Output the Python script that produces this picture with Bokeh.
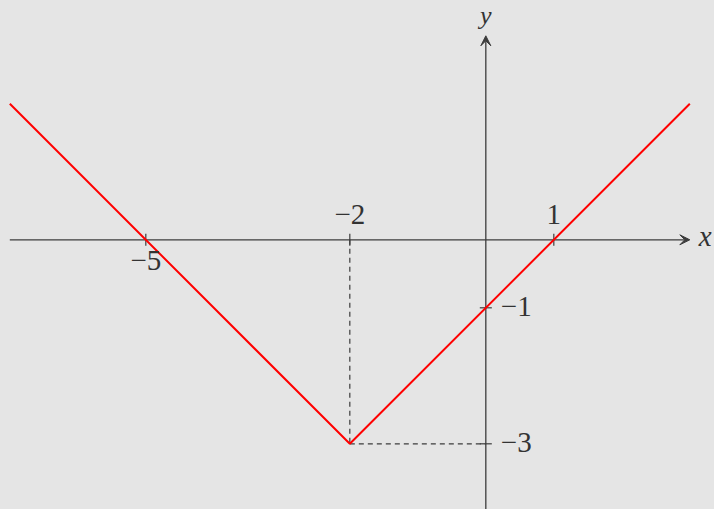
import math
from bokeh.plotting import figure
from bokeh.models import Arrow, VeeHead, Range1d
from bokeh.core.properties import value
from bokeh.embed import file_html
from bokeh.resources import INLINE

# ---- data ----
curve_x = [-7, -2, 3]
curve_y = [2, -3, 2]
vertex_x = -2
vertex_y = -3
xtick_above_vals = [-2, 1]
xtick_above_labels = ["−2", "1"]
xtick_below_vals = [-5]
xtick_below_labels = ["−5"]
ytick_vals = [-1, -3]
ytick_labels = ["−1", "−3"]
x_axis_span = [-7, 3]
y_axis_span = [-4, 3]

BG = "#e5e5e5"
AX = "#3c3c3c"
TXT = "#333333"
FONT = value("Liberation Serif")
FS = "29px"
SHIFT = -10

p = figure(width=714, height=509,
           x_range=Range1d(-7.137, 3.363), y_range=Range1d(-3.966, 3.519),
           x_axis_type=None, y_axis_type=None,
           output_backend="svg", toolbar_location=None, min_border=0,
           background_fill_color=BG, border_fill_color=BG, outline_line_color=None)

# dashed guide lines
p.line([vertex_x, vertex_x], [0, vertex_y], line_color=AX, line_width=1.2, line_dash="5 4")
p.line([vertex_x, 0], [vertex_y, vertex_y], line_color=AX, line_width=1.2, line_dash="5 4")

# axes with arrow heads
p.add_layout(Arrow(end=VeeHead(size=10, fill_color=AX, line_color=AX, line_width=1),
                   x_start=x_axis_span[0], y_start=0, x_end=x_axis_span[1], y_end=0,
                   line_color=AX, line_width=1.3, level="underlay"))
p.add_layout(Arrow(end=VeeHead(size=10, fill_color=AX, line_color=AX, line_width=1),
                   x_start=0, y_start=y_axis_span[0], x_end=0, y_end=y_axis_span[1],
                   line_color=AX, line_width=1.3, level="underlay"))

# ticks
xt = xtick_above_vals + xtick_below_vals
p.scatter(xt, [0] * len(xt), marker="dash", size=12, angle=math.pi / 2,
          line_color=AX, line_width=1.2)
p.scatter([0] * len(ytick_vals), ytick_vals, marker="dash", size=12,
          line_color=AX, line_width=1.2)

# curve
p.line(curve_x, curve_y, line_color="#ff0000", line_width=2)

# tick labels
p.text(xtick_above_vals, [0] * len(xtick_above_vals), text=xtick_above_labels,
       text_align="center", text_baseline="alphabetic", y_offset=-15 + SHIFT,
       text_font=FONT, text_font_size=FS, text_color=TXT)
p.text(xtick_below_vals, [0] * len(xtick_below_vals), text=xtick_below_labels,
       text_align="center", text_baseline="alphabetic", y_offset=31 + SHIFT,
       text_font=FONT, text_font_size=FS, text_color=TXT)
p.text([0] * len(ytick_vals), ytick_vals, text=ytick_labels,
       text_align="left", text_baseline="alphabetic", x_offset=15, y_offset=8.5 + SHIFT,
       text_font=FONT, text_font_size=FS, text_color=TXT)

# axis names
p.text([x_axis_span[1]], [0], text=["x"], text_align="left", text_baseline="alphabetic",
       x_offset=9, y_offset=6.5 + SHIFT, text_font=FONT, text_font_size=FS,
       text_font_style="italic", text_color=TXT)
p.text([0], [y_axis_span[1]], text=["y"], text_align="center", text_baseline="alphabetic",
       y_offset=-20, text_font=FONT, text_font_size="26px",
       text_font_style="italic", text_color=TXT)

html = file_html(p, INLINE)
html = html.replace("<head>", "<head><style>body{background:%s;}</style>" % BG, 1)
open("out.html", "w").write(html)
